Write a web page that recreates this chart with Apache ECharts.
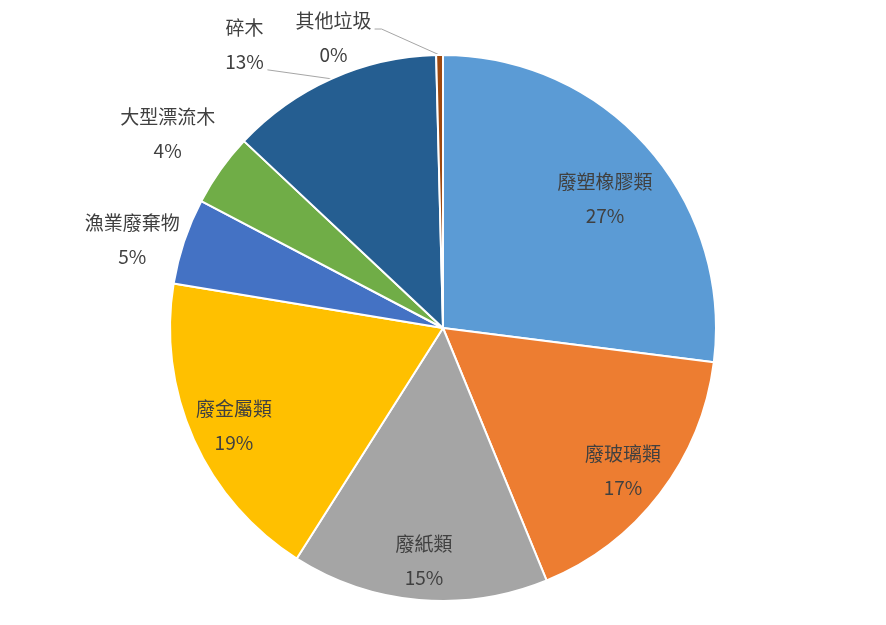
<!DOCTYPE html>
<html>
<head>
<meta charset="utf-8">
<script src="https://cdn.jsdelivr.net/npm/echarts@6/dist/echarts.min.js"></script>
<style>
html,body{margin:0;padding:0;background:#fff;}
#chart{width:886px;height:625px;}
</style>
</head>
<body>
<div id="chart"></div>
<script>
const categories = ['廢塑橡膠類','廢玻璃類','廢紙類','廢金屬類','漁業廢棄物','大型漂流木','碎木','其他垃圾'];
const values = [27.0, 16.8, 15.2, 18.6, 5.1, 4.3, 12.6, 0.4];
const colors = ['#5B9BD5','#ED7D31','#A5A5A5','#FFC000','#4472C4','#70AD47','#255E91','#9E480E'];

const insideIdx = [0,1,2,3];
const outsideIdx = [4,5,6,7];
const lineIdx = [6,7];
// label nudges (style)
const insideShift = {0:[-9,22],1:[-1,4],2:[1,6],3:[-1,5]};
const labelShift = {4:[-52,-1],5:[-53,-36],6:[-87,-34],7:[-106,-17]};
const lineShift = {6:[[-64,-9]],7:[[-58,-26],[-65,-26]]};

const FONT = '"Noto Sans CJK TC","Noto Sans",sans-serif';
const textStyle = {color:'#404040', fontSize:19, fontFamily:FONT, lineHeight:34, align:'center'};
const fmt = p => p.name + '\n' + Math.round(p.percent) + '%';

const chart = echarts.init(document.getElementById('chart'));
const CX = 443, CY = 328, R = 273;

const mainData = categories.map((c,i)=>({
  name:c, value:values[i],
  itemStyle:{color:colors[i]},
  label:{show: outsideIdx.includes(i)},
  labelLine:{show: outsideIdx.includes(i), lineStyle:{color: lineIdx.includes(i)?'#A6A6A6':'rgba(0,0,0,0)', width:1}}
}));
const ringData = categories.map((c,i)=>({
  name:c, value:values[i],
  label:{show: insideIdx.includes(i)}
}));

chart.setOption({
  animation:false,
  backgroundColor:'#ffffff',
  series:[
    {
      type:'pie', center:[CX,CY], radius:R, startAngle:90, clockwise:true,
      avoidLabelOverlap:false,
      itemStyle:{borderColor:'#ffffff', borderWidth:2},
      label:Object.assign({position:'outside', formatter:fmt}, textStyle),
      labelLine:{length:10, length2:10, smooth:false},
      labelLayout:function(p){
        const s = labelShift[p.dataIndex];
        if(!s) return {};
        let p0 = p.labelLinePoints && p.labelLinePoints[0];
        if(!p0){ return {}; }
        const x = p0[0]+s[0], y = p0[1]+s[1];
        const out = {x:x, y:y, align:'center', verticalAlign:'middle'};
        const ls = lineShift[p.dataIndex];
        if(ls){
          out.labelLinePoints = [[p0[0],p0[1]]].concat(ls.map(d=>[p0[0]+d[0],p0[1]+d[1]]));
        } else {
          out.labelLinePoints = [[p0[0],p0[1]],[p0[0],p0[1]]];
        }
        return out;
      },
      data:mainData
    },
    {
      type:'pie', center:[CX,CY], radius:[214,236], startAngle:90, clockwise:true,
      silent:true, avoidLabelOverlap:false,
      itemStyle:{color:'rgba(0,0,0,0)', borderWidth:0},
      label:Object.assign({position:'inside', formatter:fmt}, textStyle),
      labelLine:{show:false},
      labelLayout:function(p){
        const s = insideShift[p.dataIndex];
        if(!s || !p.labelRect) return {};
        const r = p.labelRect;
        return {x:r.x + r.width/2 + s[0], y:r.y + r.height/2 + s[1], align:'center', verticalAlign:'middle'};
      },
      data:ringData
    }
  ]
});
</script>
</body>
</html>
